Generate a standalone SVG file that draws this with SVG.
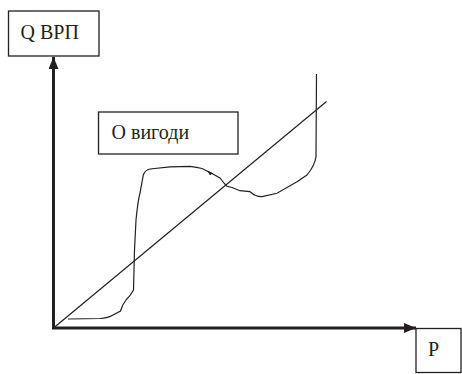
<svg xmlns="http://www.w3.org/2000/svg" width="462" height="374" viewBox="0 0 462 374">
<style>
.box{fill:#fff;stroke:#231f20;stroke-width:1.3}
.lbl{font-family:"Liberation Serif","Times New Roman",serif;font-size:20px;fill:#231f20}
.axis{stroke:#231f20;stroke-width:3;fill:none}
.thin{stroke:#231f20;stroke-width:1.2;fill:none}
</style>
<defs>
<marker id="ah" viewBox="0 0 12 10" refX="12" refY="5" markerWidth="12" markerHeight="10" markerUnits="userSpaceOnUse" orient="auto">
<path d="M0,0 L12,5 L0,10 Z" fill="#231f20"/>
</marker>
</defs>
<g id="connectors">
<line class="axis" x1="53.5" y1="328" x2="53.5" y2="57" marker-end="url(#ah)"/>
<line class="axis" x1="52" y1="328" x2="416" y2="328" marker-end="url(#ah)"/>
<line class="thin" x1="53.5" y1="328" x2="326.5" y2="101.5"/>
<path class="thin" d="M68,319 L100,318.5 Q108,318 113,315 L120.5,311 Q122,305 126,300 Q131,295 133.5,290 L134.5,250 L136,220 Q138,200 140,193 L143.3,175 Q145,170 150,169 L170,166.8 L190,166.3 Q197,167 202,168.5 L212,173.5 L220,178 Q223,182 226.5,186 L232,187.5 L240,190.7 L250,191.7 Q256,197 262,196.7 L277,193.3 L297,181.7 L307,175 Q315,165 316,156.7 L316.5,74"/>
<path d="M207,170.5 L213,173.3 L210,175.2 Z" fill="#231f20"/>
</g>
<g id="node-qvrp">
<rect class="box" x="8.5" y="11" width="90.5" height="45"/>
<text class="lbl" x="20.5" y="39">Q ВРП</text>
</g>
<g id="node-vygody">
<rect class="box" x="98.5" y="112" width="139.5" height="42"/>
<text class="lbl" x="111.5" y="138.5">О вигоди</text>
</g>
<g id="node-p">
<rect class="box" x="416" y="328.5" width="45" height="44"/>
<text class="lbl" x="428" y="356">P</text>
</g>
</svg>
